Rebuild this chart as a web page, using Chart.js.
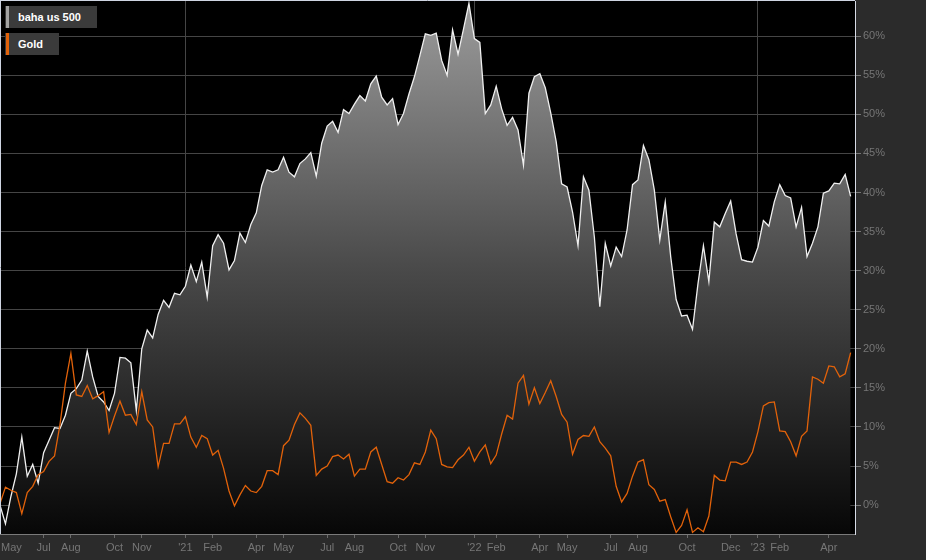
<!DOCTYPE html>
<html>
<head>
<meta charset="utf-8">
<script src="https://cdn.jsdelivr.net/npm/chart.js@4.4.0/dist/chart.umd.min.js"></script>
<style>
html,body{margin:0;padding:0;background:#2b2b2b;}
#wrap{position:relative;width:926px;height:560px;overflow:hidden;}
canvas{display:block;}
.lg{position:absolute;left:5px;height:22px;background:#3b3b3b;color:#fff;font:bold 11px "Liberation Sans",Arial,sans-serif;line-height:22px;padding-left:13px;box-sizing:border-box;white-space:nowrap;}
.lg i{position:absolute;left:1px;top:0;width:3px;height:22px;}
</style>
</head>
<body>
<div id="wrap">
<canvas id="c" width="926" height="560"></canvas>
<div class="lg" style="top:6px;width:92px"><i style="background:#a3a3a3"></i>baha us 500</div>
<div class="lg" style="top:33px;width:54px"><i style="background:#e2620a"></i>Gold</div>
</div>
<script>
// ---- data ----
const startDate = '2020-05-08';   // first weekly observation
const seriesNames = ['baha us 500', 'Gold'];

const bahaUs500 = [
  0.0, -2.4, 1.1, 4.0, 8.7, 3.7, 5.2, 2.8, 6.7, 8.3,
  9.9, 9.8, 11.5, 14.3, 14.9, 16.0, 19.7, 16.4, 13.9, 13.2,
  12.1, 14.3, 18.9, 18.8, 18.2, 12.1, 20.0, 22.4, 21.4, 24.4,
  26.2, 25.3, 27.1, 26.9, 28.0, 30.7, 28.6, 31.1, 26.6, 33.2,
  34.6, 33.5, 30.1, 31.3, 34.8, 33.6, 35.9, 37.4, 40.9, 42.9,
  42.6, 42.9, 44.5, 42.6, 42.0, 43.7, 44.3, 45.1, 42.1, 46.3,
  48.5, 49.1, 47.7, 50.6, 50.1, 51.3, 52.4, 51.7, 53.9, 54.9,
  52.2, 51.2, 52.0, 48.7, 50.1, 52.6, 54.8, 57.5, 60.3, 60.1,
  60.4, 56.9, 55.0, 60.8, 57.7, 60.9, 64.2, 59.7, 59.2, 50.1,
  51.2, 53.6, 50.7, 48.6, 49.6, 48.0, 43.5, 52.7, 54.8, 55.2,
  53.4, 50.2, 46.5, 41.1, 40.7, 37.5, 33.2, 42.0, 40.3, 34.3,
  25.4, 33.5, 30.6, 33.0, 31.8, 35.2, 41.0, 41.6, 46.0, 44.2,
  40.3, 33.9, 38.8, 31.8, 26.3, 24.2, 24.3, 22.5, 28.3, 33.2,
  28.6, 36.2, 35.6, 37.3, 38.9, 34.7, 31.4, 31.2, 31.1, 33.0,
  36.4, 35.7, 38.8, 41.0, 39.6, 39.3, 35.6, 38.1, 31.8, 33.5,
  35.6, 39.9, 40.2, 41.2, 41.1, 42.3, 39.5
];

const gold = [
  0.2, 2.3, 1.9, 1.6, -1.1, 1.6, 2.4, 3.9, 4.3, 5.6,
  6.3, 10.3, 15.6, 19.4, 14.1, 13.9, 15.3, 13.6, 14.0, 14.5,
  9.3, 11.4, 13.3, 11.5, 11.6, 10.3, 14.5, 10.9, 10.0, 4.9,
  7.9, 7.9, 10.4, 10.4, 11.3, 8.7, 7.4, 8.9, 8.5, 6.4,
  7.0, 4.7, 1.8, -0.1, 1.3, 2.5, 1.8, 1.6, 2.4, 4.4,
  4.4, 3.9, 7.6, 8.3, 10.3, 11.8, 11.1, 10.2, 3.8, 4.6,
  5.0, 6.2, 6.4, 5.9, 6.5, 3.7, 4.6, 4.6, 6.8, 7.4,
  5.2, 3.0, 2.8, 3.5, 3.2, 3.9, 5.4, 5.2, 6.8, 9.6,
  8.5, 5.2, 4.9, 4.8, 5.8, 6.4, 7.4, 5.6, 6.8, 7.7,
  5.3, 6.4, 9.1, 11.5, 11.0, 15.6, 16.6, 12.9, 15.0, 13.0,
  14.4, 15.9, 13.9, 11.6, 10.6, 6.5, 8.4, 8.9, 8.8, 10.0,
  8.1, 7.3, 6.3, 2.4, 0.4, 1.5, 3.7, 5.5, 5.8, 2.6,
  2.0, 0.5, 0.7, -1.5, -3.5, -2.6, -0.6, -3.5, -2.9, -3.4,
  -1.4, 3.8, 3.2, 3.1, 5.5, 5.5, 5.2, 5.5, 6.8, 9.4,
  12.7, 13.1, 13.2, 9.5, 9.4, 8.1, 6.3, 8.8, 9.5, 16.4,
  16.1, 15.6, 17.8, 17.7, 16.4, 16.8, 19.5
];

const tickLabels = ['May','Jul','Aug','Oct','Nov',"'21",'Feb','Apr','May','Jul','Aug','Oct','Nov',"'22",'Feb','Apr','May','Jul','Aug','Oct','Dec',"'23",'Feb','Apr'];
const tickMonths = ['2020-05','2020-07','2020-08','2020-10','2020-11','2021-01','2021-02','2021-04','2021-05','2021-07','2021-08','2021-10','2021-11','2022-01','2022-02','2022-04','2022-05','2022-07','2022-08','2022-10','2022-12','2023-01','2023-02','2023-04'];
const yTickValues = [0,5,10,15,20,25,30,35,40,45,50,55,60];

// ---- derived ----
const t0 = Date.parse(startDate + 'T00:00:00Z');
const dates = bahaUs500.map((_, i) => new Date(t0 + i * 7 * 864e5));
const monthKey = d => d.getUTCFullYear() + '-' + String(d.getUTCMonth() + 1).padStart(2, '0');
const tickIndex = tickMonths.map(m => dates.findIndex(d => monthKey(d) === m));
const yearTickIdx = new Set(tickIndex.filter((v, k) => tickLabels[k].startsWith("'")));

const FONT = '"Liberation Sans", Arial, sans-serif';
const AXIS_COL = '#767676';

const plotBg = {
  id: 'plotBg',
  beforeDraw(chart) {
    const {ctx, chartArea: a} = chart;
    ctx.save();
    ctx.fillStyle = '#000000';
    ctx.fillRect(a.left, a.top, a.right - a.left, a.bottom - a.top);
    ctx.restore();
  }
};

const decor = {
  id: 'decor',
  afterDraw(chart) {
    const {ctx, chartArea: a, scales: {x}} = chart;
    ctx.save();
    ctx.strokeStyle = '#cfd5e2';
    ctx.lineWidth = 1;
    ctx.beginPath();
    ctx.moveTo(a.left, a.top - 0.5); ctx.lineTo(a.right, a.top - 0.5);
    ctx.moveTo(a.left + 0.5, a.top); ctx.lineTo(a.left + 0.5, a.bottom);
    ctx.stroke();
    ctx.font = '11px ' + FONT;
    ctx.fillStyle = AXIS_COL;
    ctx.textAlign = 'left';
    ctx.textBaseline = 'alphabetic';
    tickLabels.forEach((lab, k) => {
      const px = x.getPixelForValue(tickIndex[k]);
      const w = ctx.measureText(lab).width;
      const left = Math.max(px - w / 2, a.left + 1);
      ctx.fillText(lab, left, 551);
    });
    ctx.restore();
  }
};

new Chart(document.getElementById('c'), {
  type: 'line',
  data: {
    datasets: [
      {
        label: seriesNames[1],
        data: gold.map((v, i) => ({x: i, y: v})),
        borderColor: '#e2620a',
        borderWidth: 1.3,
        pointRadius: 0,
        fill: false,
        tension: 0,
        order: 1
      },
      {
        label: seriesNames[0],
        data: bahaUs500.map((v, i) => ({x: i, y: v})),
        borderColor: '#f0f0f0',
        borderWidth: 1.3,
        pointRadius: 0,
        tension: 0,
        fill: 'start',
        order: 2,
        backgroundColor: (c) => {
          const a = c.chart.chartArea;
          if (!a) return '#444';
          const g = c.chart.ctx.createLinearGradient(0, a.top, 0, a.bottom);
          g.addColorStop(0, '#9c9c9c');
          g.addColorStop(0.5, '#4a4a4a');
          g.addColorStop(1, '#070707');
          return g;
        }
      }
    ]
  },
  options: {
    responsive: false,
    devicePixelRatio: 1,
    animation: false,
    events: [],
    layout: {padding: {top: 1, left: 0, right: 0, bottom: 0}},
    plugins: {legend: {display: false}, tooltip: {enabled: false}},
    scales: {
      x: {
        type: 'linear',
        min: 0,
        max: 156.8,
        afterBuildTicks: s => { s.ticks = tickIndex.filter(v => v > 0).map(v => ({value: v})); },
        afterFit: s => { s.height = 26; s.paddingLeft = 0; s.paddingRight = 0; },
        ticks: {display: false},
        grid: {
          color: c => (c.tick && yearTickIdx.has(c.tick.value)) ? '#454545' : 'rgba(0,0,0,0)',
          tickColor: '#6a6a6a',
          tickLength: 4,
          lineWidth: 1
        },
        border: {color: '#7a7a7a', width: 1}
      },
      y: {
        type: 'linear',
        position: 'right',
        min: -3.7,
        max: 64.5,
        afterBuildTicks: s => { s.ticks = yTickValues.map(v => ({value: v})); },
        afterFit: s => { s.width = 71; s.paddingTop = 0; s.paddingBottom = 0; },
        ticks: {
          color: AXIS_COL,
          font: {size: 11, family: FONT},
          padding: 2,
          callback: v => v + '%'
        },
        grid: {color: '#454545', tickColor: '#777', tickLength: 6, lineWidth: 1},
        border: {color: '#d6dbe6', width: 1}
      }
    }
  },
  plugins: [plotBg, decor]
});
</script>
</body>
</html>
